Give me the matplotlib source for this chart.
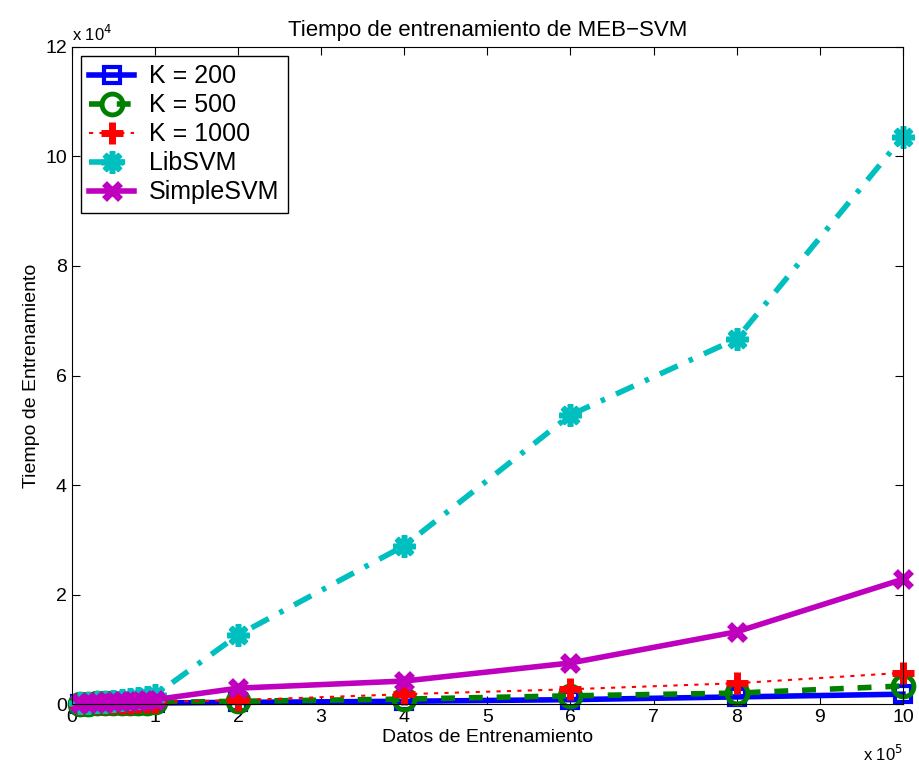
import numpy as np
import matplotlib
matplotlib.use("Agg")
import matplotlib.pyplot as plt

plt.rcParams['font.family'] = ['Liberation Sans', 'DejaVu Sans']

# x in units of 1e5, y in units of 1e4
x = [0.1, 0.2, 0.3, 0.4, 0.5, 0.6, 0.7, 0.8, 0.9, 1.0, 2, 4, 6, 8, 10]
k200 = [0.0, 0.0, 0.0, 0.0, 0.01, 0.01, 0.01, 0.01, 0.01, 0.02, 0.03, 0.05, 0.08, 0.13, 0.18]
k500 = [0.0, 0.0, 0.01, 0.01, 0.01, 0.01, 0.02, 0.02, 0.02, 0.03, 0.05, 0.09, 0.15, 0.20, 0.33]
k1000 = [0.0, 0.01, 0.01, 0.01, 0.02, 0.02, 0.02, 0.03, 0.03, 0.04, 0.07, 0.18, 0.27, 0.38, 0.57]
libsvm = [0.01, 0.02, 0.03, 0.04, 0.05, 0.07, 0.09, 0.11, 0.13, 0.16, 1.26, 2.89, 5.28, 6.67, 10.36]
simplesvm = [0.01, 0.02, 0.03, 0.03, 0.04, 0.05, 0.05, 0.06, 0.07, 0.08, 0.29, 0.42, 0.75, 1.32, 2.28]

fig = plt.figure(figsize=(9.2, 7.65), dpi=100)
ax = fig.add_axes([0.078, 0.0797, 0.9035, 0.8589])

ax.plot(x, k200, color='#0000ff', ls='-', lw=4, marker='s', ms=12, mew=3,
        mfc='none', label='K = 200', clip_on=False)
ax.plot(x, k500, color='#008000', ls='--', lw=4, marker='o', ms=15, mew=3.5,
        mfc='none', label='K = 500', clip_on=False, dashes=(2.5, 2.5))
ax.plot(x, k1000, color='#ff0000', ls=':', lw=1.5, marker='+', ms=16, mew=5,
        label='K = 1000', clip_on=False, dashes=(2, 3))
ax.plot(x, libsvm, color='#00bfbf', lw=4, marker=(8, 2, 0), ms=16, mew=4,
        label='LibSVM', clip_on=False, dashes=(3.5, 2.2, 0.8, 2.2))
ax.plot(x, simplesvm, color='#bf00bf', ls='-', lw=4, marker='x', ms=12, mew=5,
        label='SimpleSVM', clip_on=False)

ax.set_xlim(0, 10)
ax.set_ylim(0, 12)
ax.set_xticks(range(0, 11))
ax.set_yticks(range(0, 13, 2))
ax.tick_params(direction='in', top=True, right=True, labelsize=14, length=6)
for s in ax.spines.values():
    s.set_linewidth(0.8)

ax.text(0.0, 1.005, r'x 10$^4$', transform=ax.transAxes, fontsize=12,
        ha='left', va='bottom')
ax.text(1.0, -0.06, r'x 10$^5$', transform=ax.transAxes, fontsize=12,
        ha='right', va='top')

ax.set_title('Tiempo de entrenamiento de MEB\u2212SVM', fontsize=16, pad=8)
ax.set_xlabel('Datos de Entrenamiento', fontsize=14, labelpad=2)
ax.set_ylabel('Tiempo de Entrenamiento', fontsize=14)

leg = ax.legend(loc='upper left', fontsize=18, fancybox=False, edgecolor='black',
                framealpha=1, handlelength=1.8, borderaxespad=0.35,
                labelspacing=0.2, handletextpad=0.6, borderpad=0.35)
leg.get_frame().set_linewidth(1.0)
leg.set_zorder(5)

fig.savefig('out.png', dpi=100)
